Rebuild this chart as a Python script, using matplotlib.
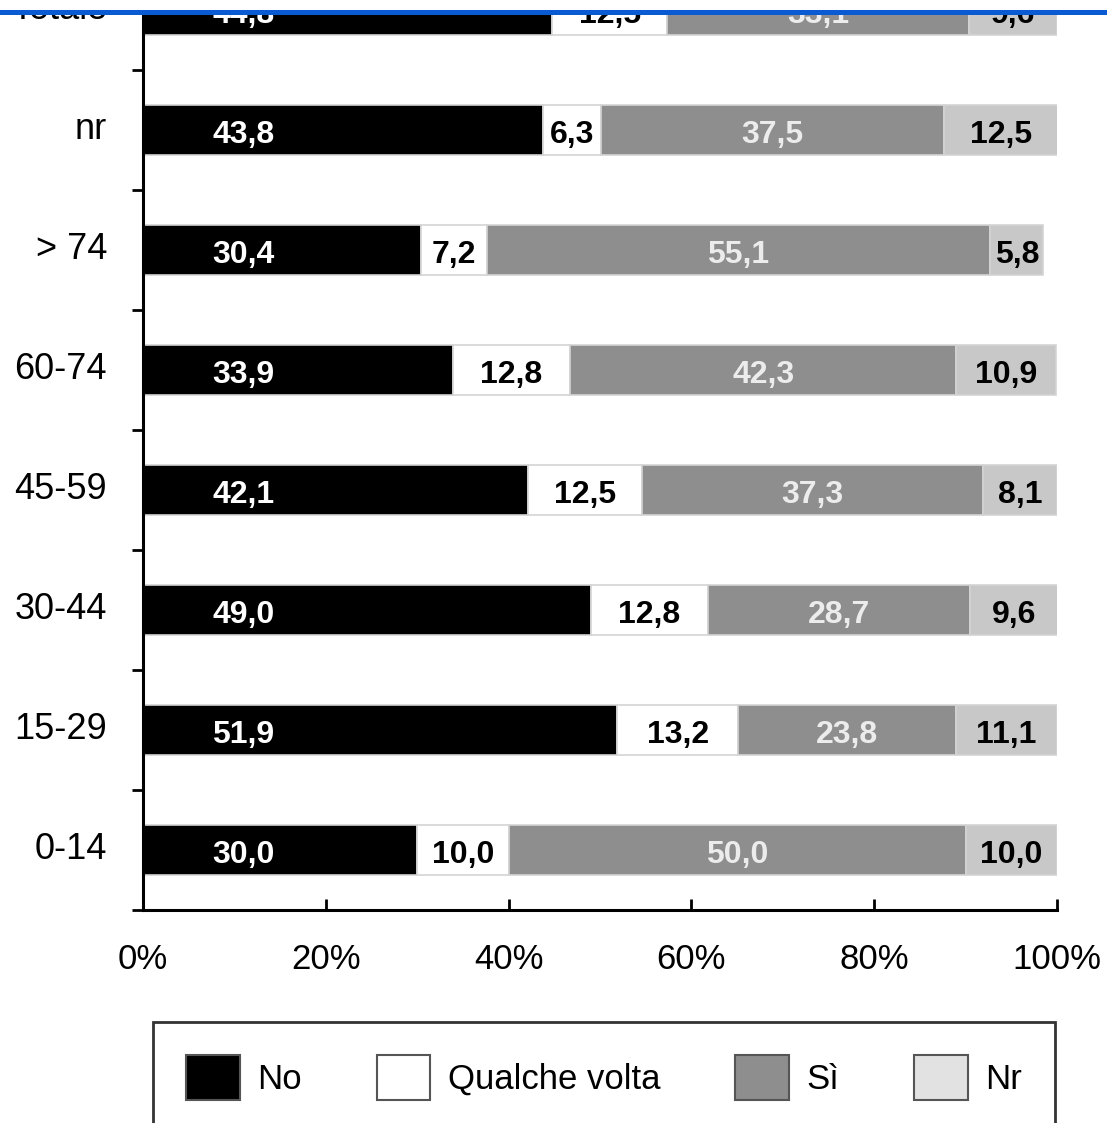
import numpy as np
import matplotlib
matplotlib.use("Agg")
import matplotlib.pyplot as plt
from matplotlib.patches import Patch, Rectangle
from matplotlib.lines import Line2D

plt.rcParams['font.family'] = ['Liberation Sans', 'DejaVu Sans']

# age groups, bottom to top
categories = ['0-14', '15-29', '30-44', '45-59', '60-74', '> 74', 'nr', 'Totale']
no_vals = [30.0, 51.9, 49.0, 42.1, 33.9, 30.4, 43.8, 44.8]
qualche_vals = [10.0, 13.2, 12.8, 12.5, 12.8, 7.2, 6.3, 12.5]
si_vals = [50.0, 23.8, 28.7, 37.3, 42.3, 55.1, 37.5, 33.1]
nr_vals = [10.0, 11.1, 9.6, 8.1, 10.9, 5.8, 12.5, 9.6]
series_names = ['No', 'Qualche volta', 'Sì', 'Nr']
x_ticks = [0, 20, 40, 60, 80, 100]

bar_colors = ['#000000', '#ffffff', '#8e8e8e', '#c8c8c8']
legend_colors = ['#000000', '#ffffff', '#8e8e8e', '#e2e2e2']
text_colors = ['white', 'black', '#ececec', 'black']

fig = plt.figure(figsize=(11.07, 11.23), dpi=100)
ax = fig.add_axes([143 / 1107, 213 / 1123, 914 / 1107, 1 - 213 / 1123])

y = np.arange(len(categories))
series = [no_vals, qualche_vals, si_vals, nr_vals]
left = np.zeros(len(categories))
for k, vals in enumerate(series):
    vals = np.array(vals)
    ax.barh(y, vals, left=left, height=0.42, color=bar_colors[k],
            edgecolor='#d4d4d4', linewidth=1.2, zorder=2)
    for yi, l, v in zip(y, left, vals):
        if k == 0:
            xt = l + 11
        else:
            xt = l + v / 2
        ax.text(xt, yi - 0.04, f"{v:.1f}".replace('.', ','), ha='center', va='center',
                fontsize=23, fontweight='bold', color=text_colors[k], zorder=3)
    left = left + vals

ax.set_xticks(x_ticks)
ax.set_xticklabels([f"{t}%" for t in x_ticks], fontsize=25)
ax.tick_params(axis='x', direction='in', length=8, width=2, pad=24)

# boundary ticks on the category axis, labels at bar centres
ax.set_yticks(np.arange(-0.5, len(categories) - 1, 1.0))
ax.set_yticklabels([])
ax.tick_params(axis='y', which='major', direction='out', length=8, width=2)
ax.set_yticks(y + 0.04, minor=True)
ax.set_yticklabels(categories, minor=True, fontsize=26)
ax.tick_params(axis='y', which='minor', length=0, pad=26)

ax.set_xlim(0, 100)
ax.set_ylim(-0.5, 7 + 10 / 120)

for s in ['top', 'right']:
    ax.spines[s].set_visible(False)
for s in ['left', 'bottom']:
    ax.spines[s].set_linewidth(2.2)

handles = [Patch(facecolor=c, edgecolor='#555555', linewidth=1.5) for c in legend_colors]
leg = fig.legend(handles, series_names, loc='upper left', ncol=4, mode='expand',
                 bbox_to_anchor=(153 / 1107, 1 - 1022 / 1123, 902 / 1107, 0),
                 fontsize=25, handlelength=1.55, handleheight=1.6, handletextpad=0.5,
                 borderpad=0.95, fancybox=False, edgecolor='black', frameon=True,
                 borderaxespad=0)
leg.get_frame().set_linewidth(2)

# white band and blue rule across the top edge
top_y = 1 - 12 / 1123
fig.add_artist(Rectangle((0, top_y), 1, 1 - top_y, transform=fig.transFigure,
                         facecolor='white', edgecolor='none', zorder=10))
fig.add_artist(Line2D([0, 1], [top_y, top_y], color='#0a5bd3', linewidth=3.6,
                      transform=fig.transFigure, zorder=11))

fig.savefig('out.png', dpi=100)
